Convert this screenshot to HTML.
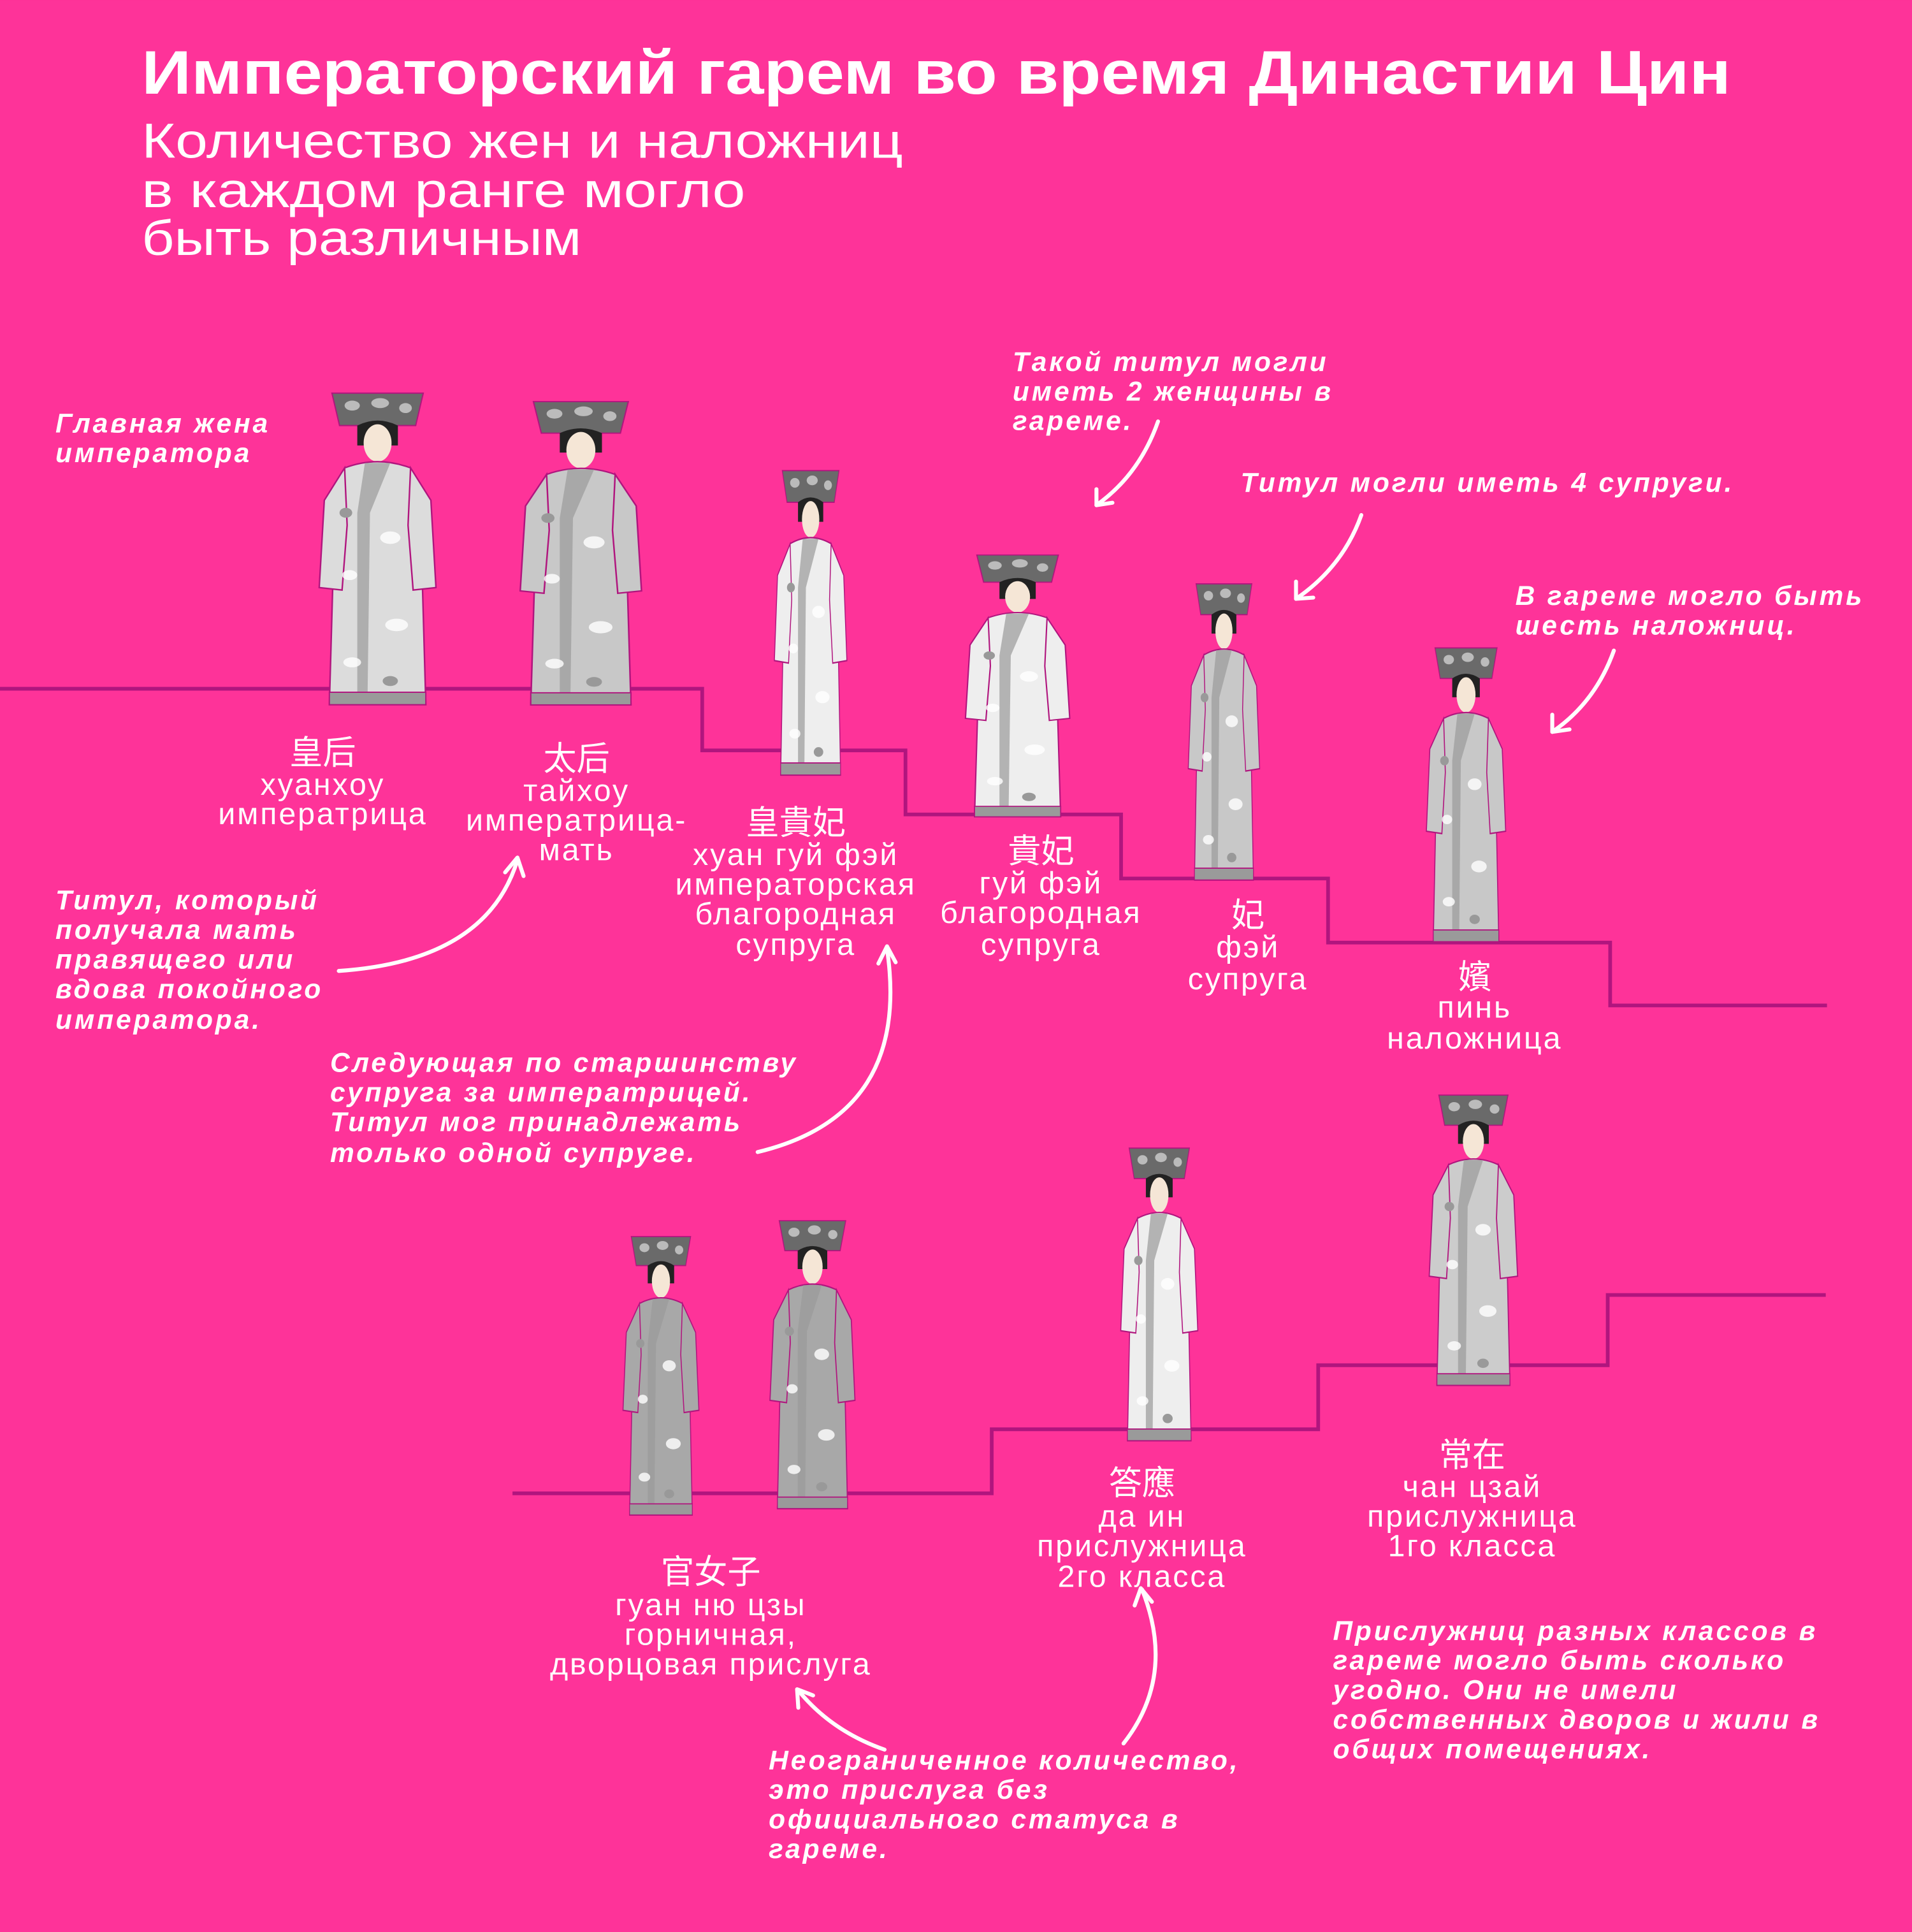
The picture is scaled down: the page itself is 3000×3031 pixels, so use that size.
<!DOCTYPE html>
<html><head><meta charset="utf-8"><style>
html,body{margin:0;padding:0;background:#fe3399;}
svg{display:block}
.t{font-family:"Liberation Sans","Noto Sans CJK SC",sans-serif;fill:#fff}
.lab{font-size:25px;text-anchor:middle;letter-spacing:1.5px}
.cjk{font-size:27px;text-anchor:middle}
.n{font-size:22px;font-style:italic;font-weight:bold;letter-spacing:2px}
.arr{fill:none;stroke:#fff;stroke-width:3.2;stroke-linecap:round;stroke-linejoin:round}
</style></head><body>
<svg width="3000" height="3031" viewBox="0 0 1552 1568" xmlns="http://www.w3.org/2000/svg">
<defs>
<symbol id="lady" viewBox="0 0 100 260" preserveAspectRatio="none">
  <path d="M14,4 L86,4 L80,30 L20,30 Z" fill="#6a6a6a" stroke="#b0157e" stroke-width="1"/>
  <ellipse cx="30" cy="14" rx="6" ry="4" fill="#bbb"/><ellipse cx="52" cy="12" rx="7" ry="4" fill="#bbb"/><ellipse cx="72" cy="16" rx="5" ry="4" fill="#bbb"/>
  <path d="M34,30 Q50,22 66,30 L66,46 L34,46 Z" fill="#222"/>
  <ellipse cx="50" cy="44" rx="11" ry="15" fill="#f5e6d6"/>
  <path d="M24,64 Q50,54 76,64 L84,110 L88,254 L12,254 L16,110 Z" fill="currentColor" stroke="#b0157e" stroke-width="1.2"/>
  <path d="M24,64 L8,90 L4,160 L22,162 L26,110 Z" fill="currentColor" stroke="#b0157e" stroke-width="1.2"/>
  <path d="M76,64 L92,90 L96,160 L78,162 L74,110 Z" fill="currentColor" stroke="#b0157e" stroke-width="1.2"/>
  <path d="M40,60 L60,60 L44,100 L42,254 L34,254 L34,100 Z" fill="#9a9a9a" opacity="0.7"/>
  <ellipse cx="60" cy="120" rx="8" ry="5" fill="#fff" opacity="0.8"/><ellipse cx="28" cy="150" rx="6" ry="4" fill="#fff" opacity="0.8"/>
  <ellipse cx="65" cy="190" rx="9" ry="5" fill="#fff" opacity="0.8"/><ellipse cx="30" cy="220" rx="7" ry="4" fill="#fff" opacity="0.8"/>
  <ellipse cx="60" cy="235" rx="6" ry="4" fill="#999"/><ellipse cx="25" cy="100" rx="5" ry="4" fill="#999"/>
  <rect x="12" y="244" width="76" height="10" fill="#9a9a9a" stroke="#b0157e" stroke-width="1"/>
</symbol>
</defs>
<rect width="1552" height="1568" fill="#fe3399"/>

<text class="t" x="115" y="76" font-size="50" font-weight="bold" textLength="1290" lengthAdjust="spacingAndGlyphs">Императорский гарем во время Династии Цин</text>
<text class="t" x="115" y="128" font-size="40" textLength="618" lengthAdjust="spacingAndGlyphs">Количество жен и наложниц</text>
<text class="t" x="115" y="168" font-size="40" textLength="490" lengthAdjust="spacingAndGlyphs">в каждом ранге  могло</text>
<text class="t" x="115" y="207" font-size="40" textLength="357" lengthAdjust="spacingAndGlyphs">быть различным</text>

<g fill="none" stroke="#b0157e" stroke-width="3">
<path d="M0,559 L570,559 L570,609 L735,609 L735,661 L910,661 L910,713 L1078,713 L1078,765 L1307,765 L1307,816 L1483,816"/>
<path d="M416,1212 L805,1212 L805,1160 L1070,1160 L1070,1108 L1305,1108 L1305,1051 L1482,1051"/>
</g>

<g>
<use href="#lady" x="255" y="315" width="103" height="263" color="#dcdcdc"/>
<use href="#lady" x="418" y="322" width="107" height="256" color="#c8c8c8"/>
<use href="#lady" x="626" y="378" width="64" height="257" color="#eeeeee"/>
<use href="#lady" x="780" y="447" width="92" height="221" color="#eeeeee"/>
<use href="#lady" x="962" y="470" width="63" height="250" color="#c8c8c8"/>
<use href="#lady" x="1155" y="522" width="70" height="248" color="#c8c8c8"/>
<use href="#lady" x="503" y="1000" width="67" height="235" color="#a8a8a8"/>
<use href="#lady" x="622" y="987" width="75" height="243" color="#a8a8a8"/>
<use href="#lady" x="907" y="928" width="68" height="247" color="#eeeeee"/>
<use href="#lady" x="1157" y="885" width="78" height="245" color="#cccccc"/>
</g>

<g class="t">
<text class="cjk" x="262" y="620">皇后</text>
<text class="lab" x="262" y="645">хуанхоу</text>
<text class="lab" x="262" y="669">императрица</text>
<text class="cjk" x="468" y="625">太后</text>
<text class="lab" x="468" y="650">тайхоу</text>
<text class="lab" x="468" y="674">императрица-</text>
<text class="lab" x="468" y="698">мать</text>
<text class="cjk" x="646" y="677">皇貴妃</text>
<text class="lab" x="646" y="702">хуан гуй фэй</text>
<text class="lab" x="646" y="726">императорская</text>
<text class="lab" x="646" y="750">благородная</text>
<text class="lab" x="646" y="775">супруга</text>
<text class="cjk" x="845" y="700">貴妃</text>
<text class="lab" x="845" y="725">гуй фэй</text>
<text class="lab" x="845" y="749">благородная</text>
<text class="lab" x="845" y="775">супруга</text>
<text class="cjk" x="1013" y="752">妃</text>
<text class="lab" x="1013" y="777">фэй</text>
<text class="lab" x="1013" y="803">супруга</text>
<text class="cjk" x="1197" y="802">嬪</text>
<text class="lab" x="1197" y="826">пинь</text>
<text class="lab" x="1197" y="851">наложница</text>
<text class="cjk" x="577" y="1285">官女子</text>
<text class="lab" x="577" y="1311">гуан ню цзы</text>
<text class="lab" x="577" y="1335">горничная,</text>
<text class="lab" x="577" y="1359">дворцовая прислуга</text>
<text class="cjk" x="927" y="1213">答應</text>
<text class="lab" x="927" y="1239">да ин</text>
<text class="lab" x="927" y="1263">прислужница</text>
<text class="lab" x="927" y="1288">2го класса</text>
<text class="cjk" x="1195" y="1190">常在</text>
<text class="lab" x="1195" y="1215">чан цзай</text>
<text class="lab" x="1195" y="1239">прислужница</text>
<text class="lab" x="1195" y="1263">1го класса</text>
</g>

<g class="t n">
<text x="45" y="351">Главная жена</text>
<text x="45" y="375">императора</text>
<text x="822" y="301">Такой титул могли</text>
<text x="822" y="325">иметь 2 женщины в</text>
<text x="822" y="349">гареме.</text>
<text x="1007" y="399">Титул могли иметь 4 супруги.</text>
<text x="1230" y="491">В гареме могло быть</text>
<text x="1230" y="515">шесть наложниц.</text>
<text x="45" y="738">Титул, который</text>
<text x="45" y="762">получала мать</text>
<text x="45" y="786">правящего  или</text>
<text x="45" y="810">вдова покойного</text>
<text x="45" y="835">императора.</text>
<text x="268" y="870">Следующая по старшинству</text>
<text x="268" y="894">супруга за императрицей.</text>
<text x="268" y="918">Титул мог принадлежать</text>
<text x="268" y="943">только одной супруге.</text>
<text x="624" y="1436">Неограниченное количество,</text>
<text x="624" y="1460">это прислуга без</text>
<text x="624" y="1484">официального статуса в</text>
<text x="624" y="1508">гареме.</text>
<text x="1082" y="1331">Прислужниц разных классов в</text>
<text x="1082" y="1355">гареме могло быть сколько</text>
<text x="1082" y="1379">угодно. Они не имели</text>
<text x="1082" y="1403">собственных дворов и жили  в</text>
<text x="1082" y="1427">общих помещениях.</text>
</g>

<g class="arr">
<path d="M940,342 Q925,385 890,410"/><path d="M890,397 L890,410 L903,408"/>
<path d="M1105,418 Q1090,460 1052,486"/><path d="M1052,472 L1052,486 L1066,485"/>
<path d="M1310,528 Q1295,570 1260,594"/><path d="M1260,580 L1260,594 L1274,592"/>
<path d="M275,788 Q395,780 420,698"/><path d="M410,708 L420,696 L425,711"/>
<path d="M615,935 Q740,905 720,770"/><path d="M713,782 L720,768 L727,781"/>
<path d="M912,1415 Q955,1360 927,1290"/><path d="M921,1303 L926,1289 L935,1300"/>
<path d="M718,1420 Q675,1405 648,1372"/><path d="M648,1386 L647,1371 L660,1376"/>
</g>
</svg>
</body></html>
